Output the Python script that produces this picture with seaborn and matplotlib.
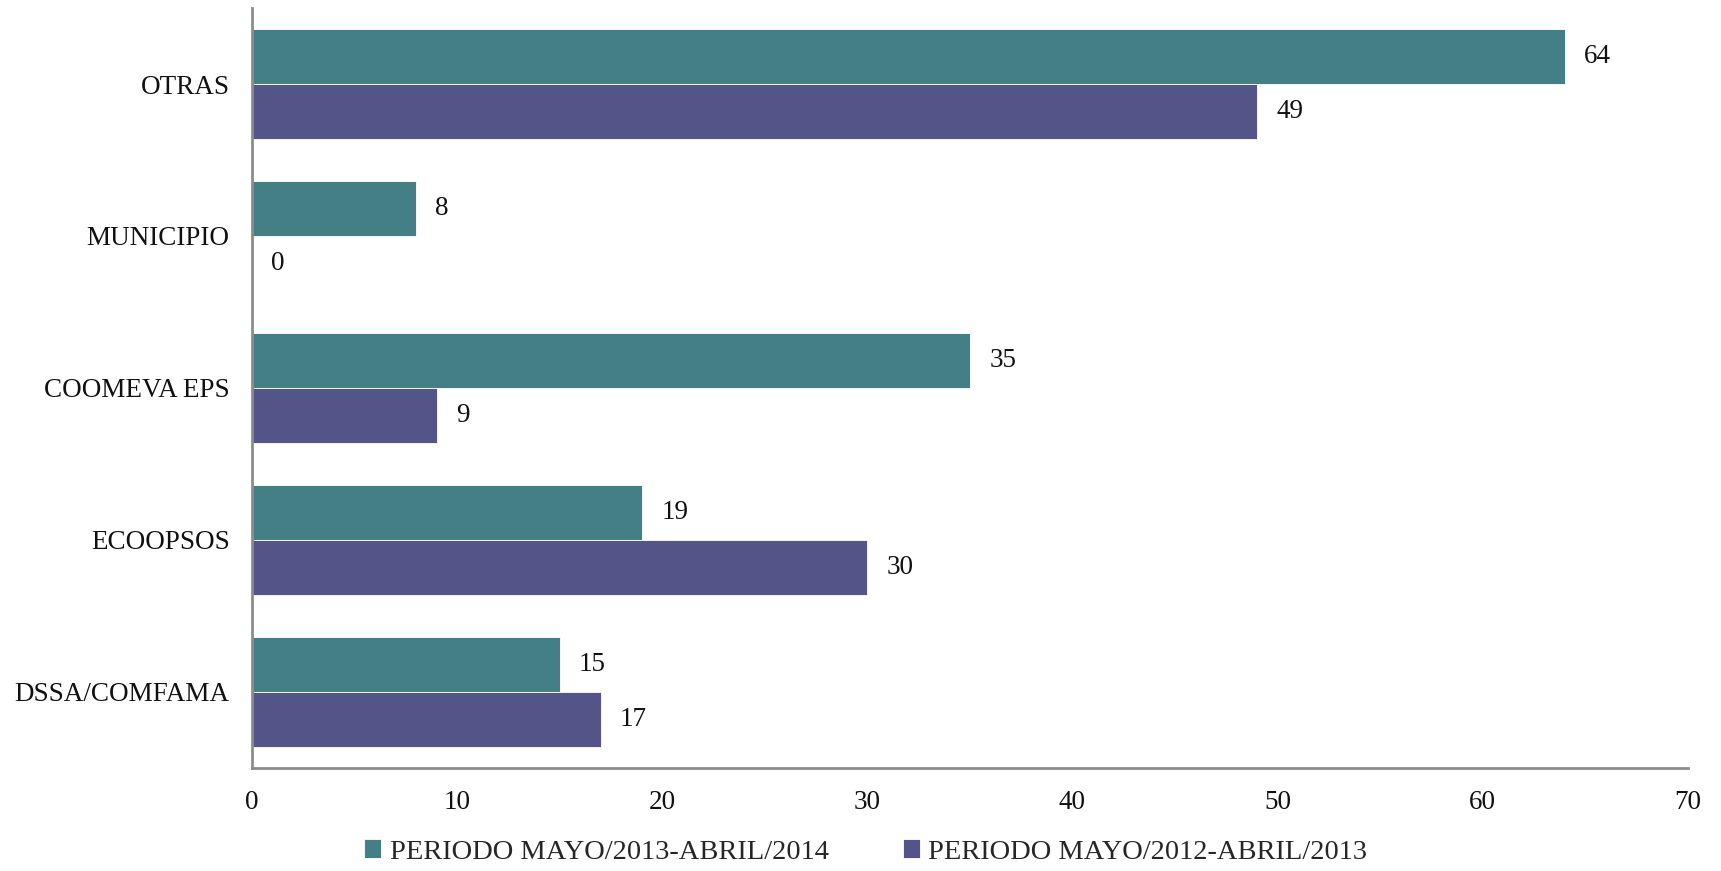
import seaborn as sns
import matplotlib.pyplot as plt
import pandas as pd

categories = ["OTRAS", "MUNICIPIO", "COOMEVA EPS", "ECOOPSOS", "DSSA/COMFAMA"]
periods = ["PERIODO MAYO/2013-ABRIL/2014", "PERIODO MAYO/2012-ABRIL/2013"]
values_2013_2014 = [64, 8, 35, 19, 15]
values_2012_2013 = [49, 0, 9, 30, 17]
colors = ["#437F85", "#535488"]

df = pd.DataFrame({
    "entidad": categories * 2,
    "periodo": [periods[0]] * len(categories) + [periods[1]] * len(categories),
    "valor": values_2013_2014 + values_2012_2013,
})

sns.set_style("white")
plt.rcParams["font.family"] = ["Liberation Serif", "DejaVu Serif"]

fig = plt.figure(figsize=(17.21, 8.71), dpi=100)
ax = fig.add_axes([0.1464, 0.1183, 0.8343, 0.8725])

sns.barplot(data=df, y="entidad", x="valor", hue="periodo", order=categories,
            hue_order=periods, palette=colors, saturation=1, orient="h", width=0.72,
            edgecolor="white", linewidth=0.6, legend=True, ax=ax)

for cont in ax.containers:
    ax.bar_label(cont, padding=14, fontsize=19.5, color="#111111")

ax.set_xlim(0, 70)
ax.set_xticks(range(0, 71, 10))
ax.set_ylim(4.5, -0.5)
ax.set_xlabel("")
ax.set_ylabel("")
ax.tick_params(axis="both", length=0, labelsize=19.5, colors="#111111")
ax.tick_params(axis="x", pad=16)
ax.tick_params(axis="y", pad=16)
for s in ["top", "right"]:
    ax.spines[s].set_visible(False)
for s in ["left", "bottom"]:
    ax.spines[s].set_color("#8c8c8c")
    ax.spines[s].set_linewidth(2)

handles, labels = ax.get_legend_handles_labels()
ax.get_legend().remove()
fig.legend(handles, labels, loc="lower center", bbox_to_anchor=(0.503, -0.022),
           ncol=2, frameon=False, fontsize=20.5, handlelength=0.6, handleheight=0.6,
           handletextpad=0.3, columnspacing=2.6)

plt.savefig("out.png", dpi=100)
plt.close()
